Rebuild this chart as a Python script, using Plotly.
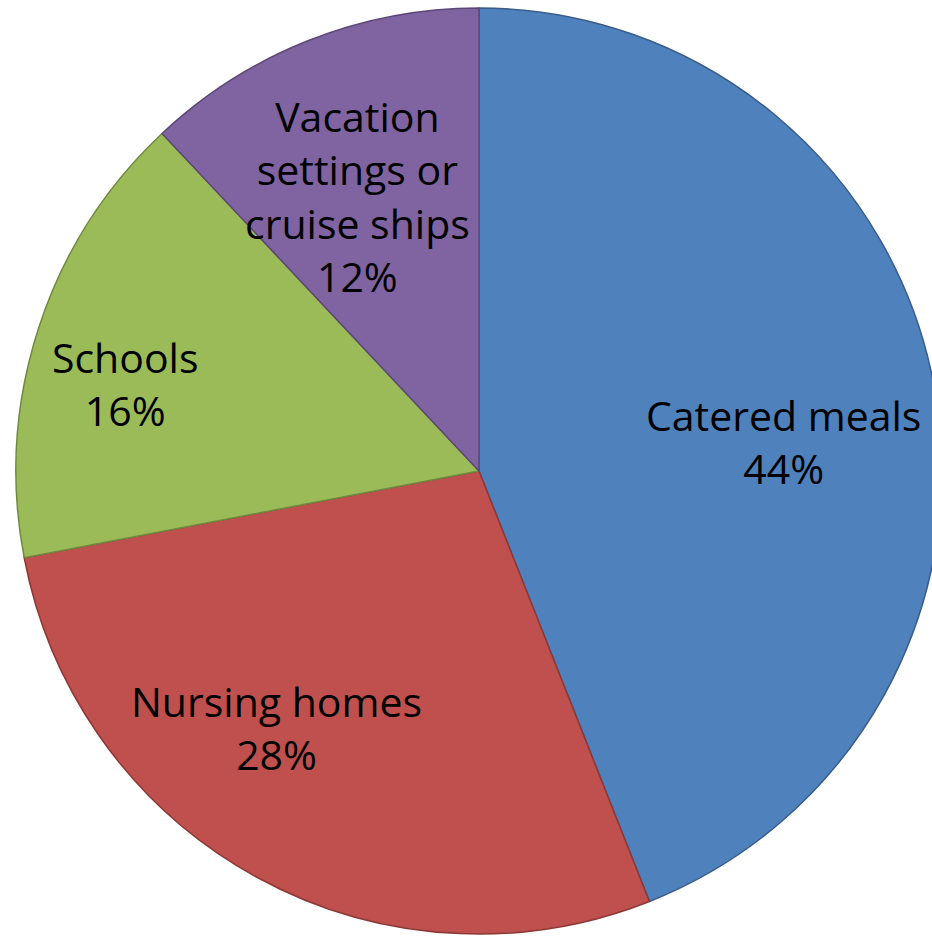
import textwrap

import plotly.graph_objects as go

# Chart data
labels = ["Catered meals", "Nursing homes", "Schools", "Vacation settings or cruise ships"]
values = [44, 28, 16, 12]

# Styling
SLICE_COLORS = ["#4F81BD", "#C0504D", "#9BBB59", "#8064A2"]
EDGE_COLORS = ["#385D8A", "#8C3836", "#71893F", "#5C4776"]
FONT = "Open Sans"

# figure is a bit wider than the window so the pie runs off the right edge
W, H = 942, 936
CX, CY, R = 479, 471, 463

# label anchor points (pixels), roughly where the source puts them
label_pos = [(783, 441), (276, 727), (125, 383), (357, 196)]

fig = go.Figure(
    go.Pie(
        labels=labels,
        values=values,
        marker=dict(colors=SLICE_COLORS, line=dict(color=EDGE_COLORS, width=1.5)),
        textinfo="none",
        hoverinfo="label+percent",
        sort=False,
        direction="clockwise",
        rotation=0,
        showlegend=False,
        domain=dict(
            x=[(CX - R) / W, min(1, (CX + R) / W)],
            y=[max(0, 1 - (CY + R) / H), 1 - (CY - R) / H],
        ),
    )
)

for lab, val, (px, py) in zip(labels, values, label_pos):
    text = "<br>".join(textwrap.wrap(lab, 13)) + f"<br>{val}%"
    fig.add_annotation(
        x=px / W, y=1 - py / H, xref="paper", yref="paper",
        text=text, showarrow=False, xanchor="center", yanchor="middle",
        font=dict(family=FONT, size=41, color="black"),
    )

fig.update_layout(
    width=W, height=H,
    margin=dict(l=0, r=0, t=0, b=0),
    paper_bgcolor="white",
    plot_bgcolor="white",
)

# drop the default body margin and hide the scrollbars from the overflow
fig.write_html(
    "out.html",
    config={"displayModeBar": False},
    post_script=(
        "document.body.style.margin='0';"
        "document.body.style.overflow='hidden';"
        "document.documentElement.style.overflow='hidden';"
    ),
)
